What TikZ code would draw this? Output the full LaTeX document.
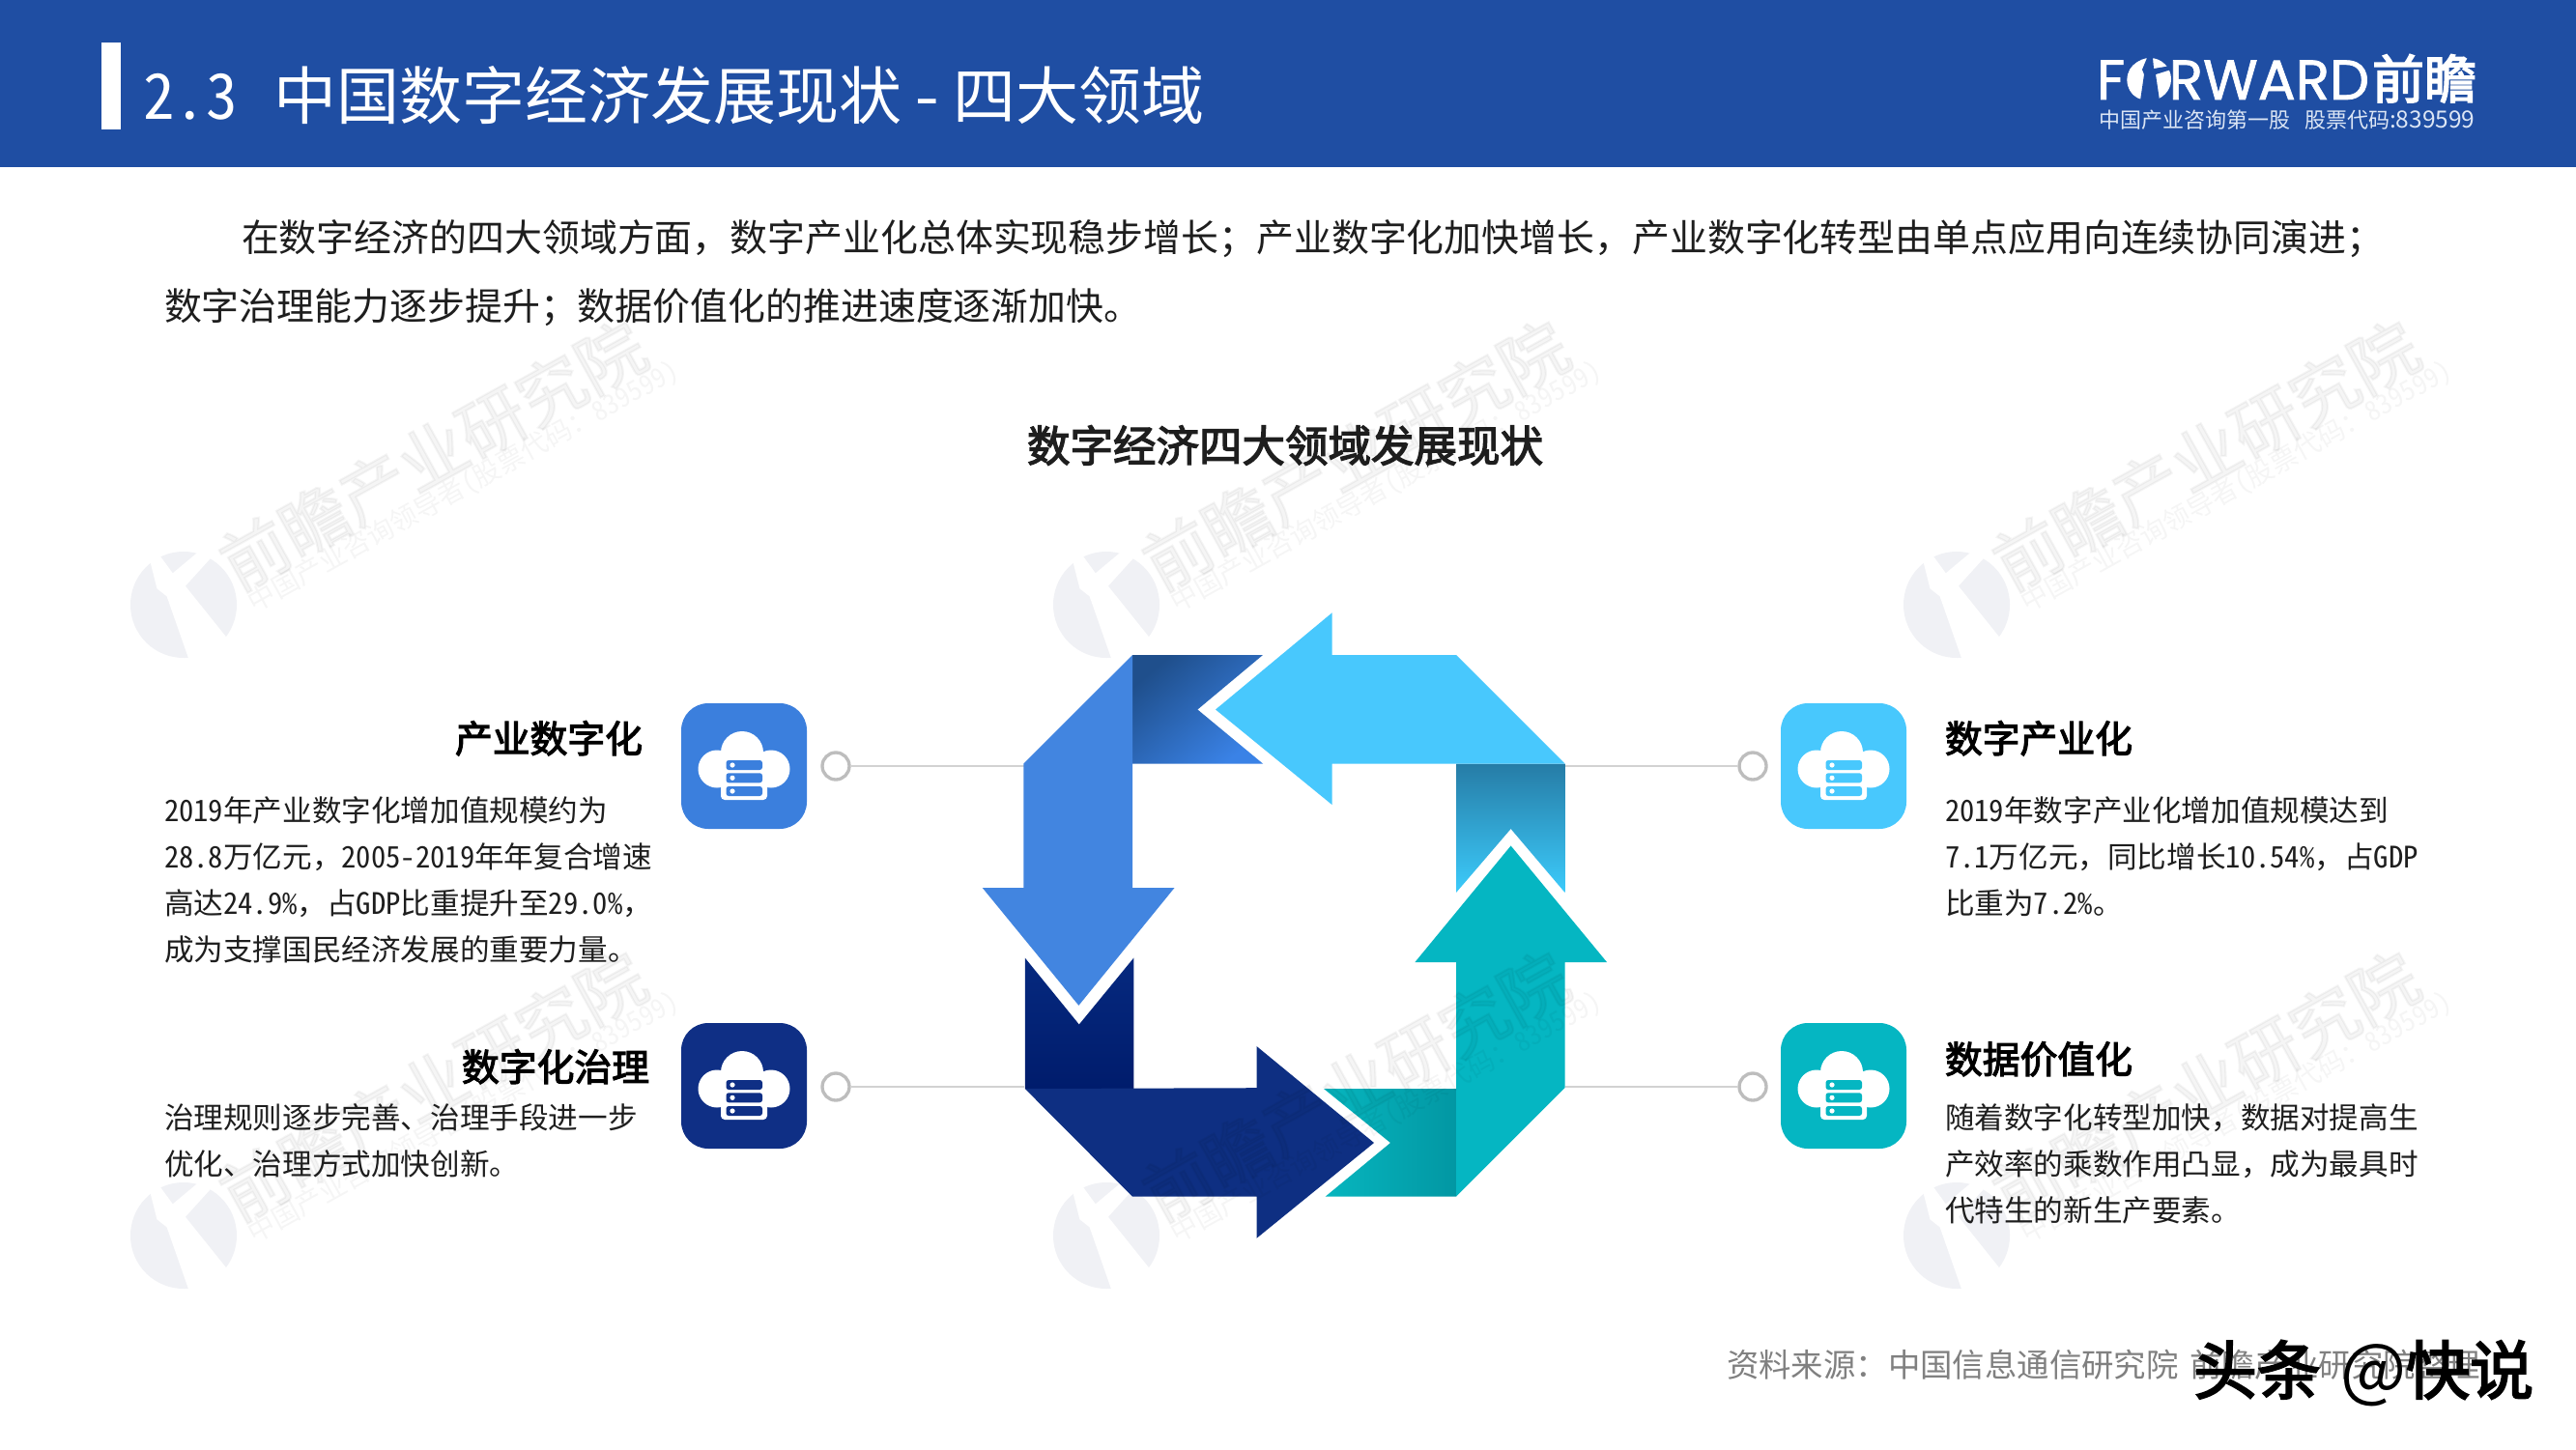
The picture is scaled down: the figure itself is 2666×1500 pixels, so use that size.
\documentclass[tikz,border=0pt]{standalone}
\usepackage{fontspec}
\setmainfont{Noto Sans CJK SC}[RawFeature=+hwid]
\newfontfamily\logofont{Poppins}[FakeBold=1.2]
\newfontfamily\propf{Noto Sans CJK SC}
\newfontfamily\semib{Noto Sans CJK SC}[RawFeature=+hwid,FakeBold=3]
\newcommand\qc{{\propf\symbol{"FF0C}}}
\newcommand\qs{{\propf\symbol{"FF1B}}}
\newcommand\qk{{\propf\symbol{"FF1A}}}
\newcommand\fpx[1]{\fontsize{\fpeval{#1*0.8536}pt}{\fpeval{#1*0.8536*1.2}pt}\selectfont}
\definecolor{band}{HTML}{1F4EA3}
\definecolor{cblue}{HTML}{4285E0}
\definecolor{clight}{HTML}{48C8FD}
\definecolor{cnavy}{HTML}{0E2F82}
\definecolor{cteal}{HTML}{05B6C2}
\definecolor{iblue}{HTML}{3B7FDD}
\definecolor{inavy}{HTML}{0F2F85}
\definecolor{ink}{HTML}{1E1E1E}
\definecolor{srcgray}{HTML}{808080}
\definecolor{leadgray}{HTML}{D2D2D2}
\definecolor{ringgray}{HTML}{BDBDBD}
\definecolor{logosub}{HTML}{DCE6F5}
\definecolor{wmgray}{HTML}{F0F1F5}
\definecolor{fbA}{HTML}{1F4F8C}
\definecolor{fbB}{HTML}{3A82E6}
\definecolor{flA}{HTML}{267CA6}
\definecolor{flB}{HTML}{3CCBFB}
\definecolor{ftA}{HTML}{07B6BF}
\definecolor{ftB}{HTML}{0297A3}
\definecolor{fnA}{HTML}{06297F}
\definecolor{fnB}{HTML}{001C6C}
\tikzset{
  x=0.3mm,y=-0.3mm,
  txt/.style={inner sep=0,outer sep=0,anchor=base west},
  body/.style={txt,font=\fpx{30.6},text=ink},
  para/.style={txt,font=\fpx{38.9},text=ink},
  headl/.style={txt,anchor=base east,font=\semib\fpx{38.8},text=black},
  headr/.style={txt,font=\semib\fpx{38.8},text=black},
  iconbox/.style={draw=none,rounded corners=8.4mm,minimum size=39mm,inner sep=0},
  ring/.style={circle,draw=ringgray,line width=1.0mm,fill=white,minimum size=8.4mm,inner sep=0},
  leader/.style={draw=leadgray,line width=0.6mm},
  wmtxt/.style={inner sep=0,rotate=29,text=black,text opacity=0.04},
  cloudicon/.pic={
    \fill[white] (-28,3) circle (19.5);
    \fill[white] (28,3) circle (19.5);
    \fill[white] (-2,-14) circle (22);
    \fill[white] (-24,-4) rectangle (24,22);
    \fill[white,rounded corners=1.2mm] (-24,-10) rectangle (24,35);
    \foreach \yy in {-6,7.3,21}{
      \fill[pic actions,rounded corners=0.8mm] (-18.5,\yy) rectangle (19,\yy+10);
      \fill[white] (-12,\yy+5) circle (2.6);
    }
  },
  wmlogo/.pic={
    \begin{scope}[rotate=29]
      \fill[wmgray] (0,0) circle (55);
      \fill[white] (-8,-58) -- (3,-58) -- (6,-34) -- (58,-44) -- (58,-32) -- (11,-16) -- (24,60) -- (-24,60) -- (-11,-16) -- (-16,-28) -- cycle;
    \end{scope}
  },
  wmtext/.pic={
    \node[wmtxt,font=\semib\fpx{70}] (m) at (258,-155) {前瞻产业研究院};
    \node[wmtxt,font=\fpx{28}] (s) at (290,-122) {中国产业咨询领导者(股票代码\qk{}839599)};
  }
}
\begin{document}
\begin{tikzpicture}
\useasboundingbox (0,0) rectangle (2666,1500);
\fill[white] (0,0) rectangle (2666,1500);

% watermark logos
\foreach \wx/\wy in {190/626,1145/626,2025/626,190/1279,1145/1279,2025/1279}
  \pic at (\wx,\wy) {wmlogo};

% header
\fill[band] (0,0) rectangle (2666,173);
\fill[white] (105,44) rectangle (125,134);
\node[txt,font=\fpx{65},text=white] (title) at (148,124) {2.3\hspace{11.5mm}中国数字经济发展现状\hspace{3mm}-\hspace{3mm}四大领域};

% header logo
\node[txt,font=\logofont\fpx{58},text=white] (logoword) at (2170,103) {FORWARD};
\node[txt,font=\semib\fpx{54},text=white] (logocn) at (2455,102) {前瞻};
\fill[white] (2225,82) circle (22);
\fill[band] (2222,60) -- (2228,60) -- (2229,71) -- (2247,68) -- (2247,72) -- (2231,77) -- (2235,104) -- (2215,104) -- (2219,77) -- (2217,72) -- cycle;
\node[txt,font=\propf\fpx{22},text=logosub] (logosubt) at (2172,132) {中国产业咨询第一股\hspace{4.5mm}股票代码{\fpx{24.5}:839599}};

% paragraph
\node[para] (p1) at (250,260) {在数字经济的四大领域方面\qc{}数字产业化总体实现稳步增长\qs{}产业数字化加快增长\qc{}产业数字化转型由单点应用向连续协同演进\qs};
\node[para] (p2) at (170,331) {数字治理能力逐步提升\qs{}数据价值化的推进速度逐渐加快。};

% chart title
\node[inner sep=0,font=\semib\fpx{44.5},text=ink] (ct) at (1330,461) {数字经济四大领域发展现状};

% leader lines + rings
\coordinate (j1) at (1060,793);
\coordinate (j2) at (1060,1125);
\coordinate (j3) at (1620,793);
\coordinate (j4) at (1620,1125);
\node[ring] (r1) at (865,793) {};
\node[ring] (r2) at (865,1125) {};
\node[ring] (r3) at (1814,793) {};
\node[ring] (r4) at (1814,1125) {};
\draw[leader] (r1) -- (j1);
\draw[leader] (r2) -- (j2);
\draw[leader] (r3) -- (j3);
\draw[leader] (r4) -- (j4);

% fold pieces
\shade[top color=fbA,bottom color=fbB,shading angle=40]
  (1172,678) -- (1307,678) -- (1239.4,734.5) -- (1307,790.5) -- (1172,790.5) -- cycle;
\shade[top color=flA,bottom color=flB]
  (1507,790.5) -- (1619.6,790.5) -- (1619.6,924) -- (1563.6,858) -- (1507,924) -- cycle;
\shade[left color=ftA,right color=ftB]
  (1370,1127) -- (1507,1127) -- (1507,1238.7) -- (1371.6,1238.7) -- (1439,1183) -- cycle;
\shade[top color=fnA,bottom color=fnB]
  (1060.8,991.6) -- (1116.8,1060.5) -- (1173.3,991.6) -- (1173.3,1127) -- (1060.8,1127) -- cycle;

% arrows
\fill[clight] (1258,734.5) -- (1378.5,634.4) -- (1378.5,678) -- (1507,678) -- (1619.6,790.5) -- (1378.5,790.5) -- (1378.5,833) -- cycle;
\fill[cblue] (1172,678) -- (1059.4,790.5) -- (1059.4,919) -- (1016.7,919) -- (1116.4,1040.8) -- (1215.5,919) -- (1172,919) -- cycle;
\fill[cnavy] (1060.8,1127) -- (1172,1238.7) -- (1300.5,1238.7) -- (1300.5,1281.8) -- (1422,1183) -- (1300.5,1083) -- (1300.5,1126.2) -- cycle;
\fill[cteal] (1507,1238.7) -- (1619.6,1126) -- (1619.6,996) -- (1663,996) -- (1563.6,875.5) -- (1464.4,996) -- (1507,996) -- cycle;

% watermark text
\foreach \wi/\wx/\wy in {a/190/626,b/1145/626,c/2025/626,d/190/1279,e/1145/1279,f/2025/1279}
  \pic (w\wi) at (\wx,\wy) {wmtext};

% icons
\node[iconbox,fill=iblue] (ic1) at (770,793) {};
\pic[fill=iblue] at (ic1.center) {cloudicon};
\node[iconbox,fill=inavy] (ic2) at (770,1124) {};
\pic[fill=inavy] at (ic2.center) {cloudicon};
\node[iconbox,fill=clight] (ic3) at (1908,793) {};
\pic[fill=clight] at (ic3.center) {cloudicon};
\node[iconbox,fill=cteal] (ic4) at (1908,1124) {};
\pic[fill=cteal] at (ic4.center) {cloudicon};

% left texts
\node[headl] (h1) at (665,779) {产业数字化};
\node[body] (a1) at (170,850) {2019年产业数字化增加值规模约为};
\node[body] (a2) at (170,898) {28.8万亿元\qc{}2005-2019年年复合增速};
\node[body] (a3) at (170,946) {高达24.9\%\qc{}占GDP比重提升至29.0\%\qc};
\node[body] (a4) at (170,994) {成为支撑国民经济发展的重要力量。};
\node[headl] (h2) at (672,1119) {数字化治理};
\node[body] (b1) at (170,1168) {治理规则逐步完善、治理手段进一步};
\node[body] (b2) at (170,1216) {优化、治理方式加快创新。};

% right texts
\node[headr] (h3) at (2013,779) {数字产业化};
\node[body] (c1) at (2013,850) {2019年数字产业化增加值规模达到};
\node[body] (c2) at (2013,898) {7.1万亿元\qc{}同比增长10.54\%\qc{}占GDP};
\node[body] (c3) at (2013,946) {比重为7.2\%。};
\node[headr] (h4) at (2013,1111) {数据价值化};
\node[body] (d1) at (2013,1168) {随着数字化转型加快\qc{}数据对提高生};
\node[body] (d2) at (2013,1216) {产效率的乘数作用凸显\qc{}成为最具时};
\node[body] (d3) at (2013,1264) {代特生的新生产要素。};

% source + overlay
\node[txt,font=\fpx{33.4},text=srcgray] (src) at (1787,1425) {资料来源\qk{}中国信息通信研究院\hspace{3.5mm}前瞻产业研究院整理};
\node[txt,font=\semib\fpx{66},text=black] (stamp) at (2270,1443) {头条\hspace{6mm}{\propf\fpx{72}@}快说};
\end{tikzpicture}
\end{document}
